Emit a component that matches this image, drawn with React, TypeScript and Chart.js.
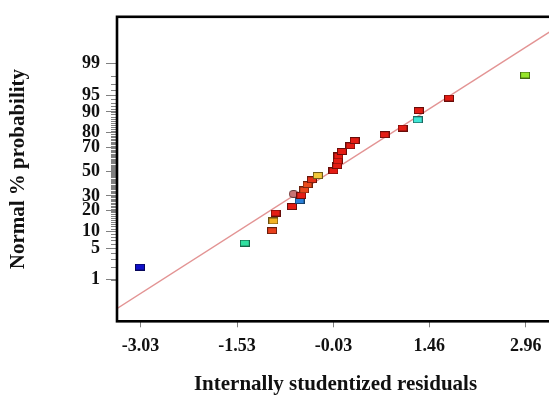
import React, { useEffect, useRef } from "react";
import { Chart, registerables } from "chart.js";

Chart.register(...registerables);

// ---- data ----
const residuals = [
  -3.04, -1.41, -0.985, -0.965, -0.93, -0.675, -0.557, -0.65, -0.531, -0.485,
  -0.434, -0.365, -0.273, -0.03, 0.027, 0.037, 0.047, 0.1, 0.233, 0.3,
  0.765, 1.044, 1.28, 1.297, 1.767, 2.95,
];
const probabilities = [
  2.0, 6.2, 10.2, 14.4, 18.6, 22.6, 26.6, 31.5, 30.3, 34.6,
  38.9, 43.0, 46.6, 50.6, 55.1, 59.0, 63.1, 66.7, 71.0, 74.7,
  78.6, 82.5, 86.7, 90.5, 94.3, 98.1,
];
const markerColors = [
  "#1010c8", "#30e0a0", "#e8401c", "#f2b224", "#e41c14", "#e41c14", "#2a80d8", "#c87474", "#e41c14", "#e8481c",
  "#ea4c1c", "#e43018", "#f2c83a", "#e41c14", "#e41c14", "#e41c14", "#e41c14", "#e41c14", "#e41c14", "#e41c14",
  "#e41c14", "#e41c14", "#40e6d6", "#e41c14", "#e41c14", "#96e62a",
];
const markerShapes = [
  "rect", "rect", "rect", "rect", "rect", "rect", "rect", "circle", "rect", "rect",
  "rect", "rect", "rect", "rect", "rect", "rect", "rect", "rect", "rect", "rect",
  "rect", "rect", "rect", "rect", "rect", "rect",
];
const lineResiduals = [-3.4, 3.4];
const lineProbabilities = [0.16, 99.89];
const xTickValues = [-3.03, -1.53, -0.03, 1.46, 2.96];
const yTickLabels = [1, 5, 10, 20, 30, 50, 70, 80, 90, 95, 99];
const yMinorTickLabels = Array.from({ length: 99 }, (_, i) => i + 1);

// inverse normal CDF (probability scale transform)
function probit(p: number): number {
  const a = [-3.969683028665376e1, 2.209460984245205e2, -2.759285104469687e2, 1.38357751867269e2, -3.066479806614716e1, 2.506628277459239];
  const b = [-5.447609879822406e1, 1.615858368580409e2, -1.556989798598866e2, 6.680131188771972e1, -1.328068155022860e1];
  const c = [-7.784894002430293e-3, -3.223964580411365e-1, -2.400758277161838, -2.549732539343734, 4.374664141464968, 2.938163982698783];
  const d = [7.784695709041462e-3, 3.224671290700398e-1, 2.445134137142996, 3.754408661907416];
  const plow = 0.02425;
  if (p < plow) {
    const q = Math.sqrt(-2 * Math.log(p));
    return (((((c[0] * q + c[1]) * q + c[2]) * q + c[3]) * q + c[4]) * q + c[5]) / ((((d[0] * q + d[1]) * q + d[2]) * q + d[3]) * q + 1);
  }
  if (p <= 1 - plow) {
    const q = p - 0.5;
    const r = q * q;
    return ((((((a[0] * r + a[1]) * r + a[2]) * r + a[3]) * r + a[4]) * r + a[5]) * q) / (((((b[0] * r + b[1]) * r + b[2]) * r + b[3]) * r + b[4]) * r + 1);
  }
  const q = Math.sqrt(-2 * Math.log(1 - p));
  return -(((((c[0] * q + c[1]) * q + c[2]) * q + c[3]) * q + c[4]) * q + c[5]) / ((((d[0] * q + d[1]) * q + d[2]) * q + d[3]) * q + 1);
}

function darken(hex: string, f: number): string {
  const n = parseInt(hex.slice(1), 16);
  const r = Math.round(((n >> 16) & 255) * f);
  const g = Math.round(((n >> 8) & 255) * f);
  const b = Math.round((n & 255) * f);
  return `rgb(${r},${g},${b})`;
}

function makeMarker(fill: string, shape: string): HTMLCanvasElement {
  const c = document.createElement("canvas");
  const w = 10;
  const h = shape === "circle" ? 8 : 7;
  c.width = w;
  c.height = h;
  const ctx = c.getContext("2d")!;
  ctx.fillStyle = fill;
  ctx.strokeStyle = darken(fill, 0.45);
  ctx.lineWidth = 1;
  if (shape === "circle") {
    ctx.beginPath();
    ctx.ellipse(w / 2, h / 2, w / 2 - 0.5, h / 2 - 0.5, 0, 0, Math.PI * 2);
    ctx.fill();
    ctx.stroke();
  } else {
    ctx.fillRect(0.5, 0.5, w - 1, h - 1);
    ctx.strokeRect(0.5, 0.5, w - 1, h - 1);
  }
  return c;
}

const CANVAS_W = 560;
const CANVAS_H = 397;
const AREA_LEFT = 117;
const AREA_TOP = 13.7;
const AREA_BOTTOM = 321.3;
const AREA_RIGHT = 555.6;

const tickFont = { family: "'Liberation Serif', 'Times New Roman', serif", size: 18, weight: "bold" as const };
const titleFont = { family: "'Liberation Serif', 'Times New Roman', serif", size: 21, weight: "bold" as const, lineHeight: 1 };

const framePlugin = {
  id: "frameAndMinorTicks",
  afterDatasetsDraw(chart: any) {
    const { ctx, chartArea } = chart;
    const { left, top, right, bottom } = chartArea;
    const y = chart.scales.y;
    ctx.save();
    ctx.strokeStyle = "#808080";
    ctx.lineWidth = 1;
    for (const p of yMinorTickLabels) {
      const yy = Math.round(y.getPixelForValue(probit(p / 100))) + 0.5;
      ctx.beginPath();
      ctx.moveTo(left - 6, yy);
      ctx.lineTo(left, yy);
      ctx.stroke();
    }
    ctx.strokeStyle = "#000";
    ctx.lineWidth = 2.6;
    ctx.strokeRect(left, top, right - left, bottom - top);
    ctx.restore();
  },
};

export default function App() {
  const ref = useRef<HTMLCanvasElement | null>(null);

  useEffect(() => {
    if (!ref.current) return;
    const markers = markerColors.map((c, i) => makeMarker(c, markerShapes[i]));
    const points = residuals.map((x, i) => ({ x, y: probit(probabilities[i] / 100) }));
    const linePts = lineResiduals.map((x, i) => ({ x, y: probit(lineProbabilities[i] / 100) }));

    const chart = new Chart(ref.current, {
      type: "scatter",
      data: {
        datasets: [
          {
            type: "scatter",
            data: points,
            pointStyle: markers as any,
            pointRadius: 5,
            order: 1,
          } as any,
          {
            type: "line",
            data: linePts,
            borderColor: "#e39494",
            borderWidth: 1.4,
            pointRadius: 0,
            fill: false,
            order: 2,
          } as any,
        ],
      },
      options: {
        animation: false,
        responsive: false,
        devicePixelRatio: 1,
        layout: { padding: { top: AREA_TOP, left: 0, right: CANVAS_W - AREA_RIGHT, bottom: 0 } },
        plugins: { legend: { display: false }, tooltip: { enabled: false } },
        scales: {
          x: {
            type: "linear",
            min: -3.397,
            max: 3.4,
            afterFit: (s: any) => {
              s.height = CANVAS_H - AREA_BOTTOM;
            },
            afterBuildTicks: (s: any) => {
              s.ticks = xTickValues.map((v) => ({ value: v }));
            },
            border: { display: false },
            grid: { drawOnChartArea: false, drawTicks: true, tickLength: 6, tickColor: "#808080", tickWidth: 1 },
            ticks: {
              color: "#111",
              font: tickFont,
              padding: 8,
              maxRotation: 0,
              autoSkip: false,
              callback: (v: any) => Number(v).toFixed(2),
            },
            title: {
              display: true,
              text: "Internally studentized residuals",
              color: "#111",
              font: titleFont,
              padding: { top: 0, bottom: 1.5 },
            },
          },
          y: {
            type: "linear",
            min: -3.219,
            max: 3.326,
            afterFit: (s: any) => {
              s.width = AREA_LEFT;
            },
            afterBuildTicks: (s: any) => {
              s.ticks = yTickLabels.map((p) => ({ value: probit(p / 100) }));
            },
            border: { display: false },
            grid: { drawOnChartArea: false, drawTicks: true, tickLength: 11, tickColor: "#808080", tickWidth: 1 },
            ticks: {
              color: "#111",
              font: tickFont,
              padding: 6,
              autoSkip: false,
              callback: (_v: any, i: number) => String(yTickLabels[i]),
            },
            title: {
              display: true,
              text: "Normal % probability",
              color: "#111",
              font: titleFont,
              padding: { top: 8.5, bottom: 0 },
            },
          },
        },
      },
      plugins: [framePlugin],
    });
    return () => chart.destroy();
  }, []);

  return (
    <div
      style={{
        position: "fixed",
        left: 0,
        top: 0,
        width: 549,
        height: 397,
        overflow: "hidden",
        background: "#fff",
      }}
    >
      <canvas ref={ref} width={CANVAS_W} height={CANVAS_H} style={{ display: "block", width: CANVAS_W, height: CANVAS_H }} />
    </div>
  );
}
